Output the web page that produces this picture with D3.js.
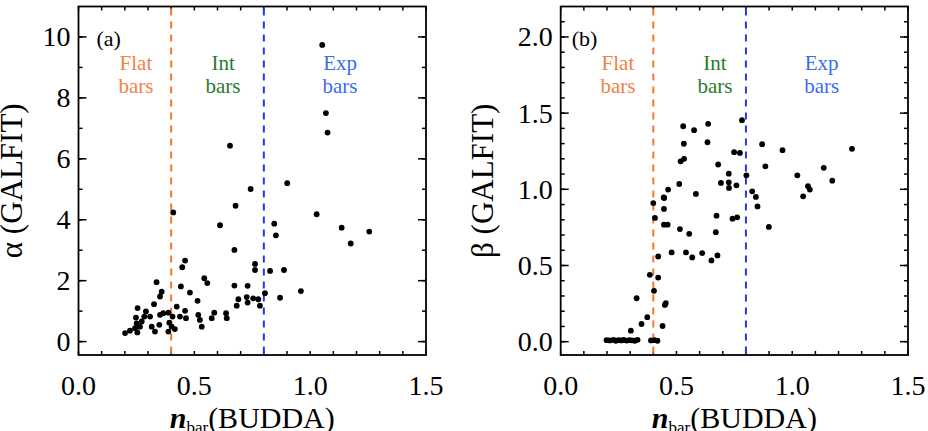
<!DOCTYPE html>
<html>
<head>
<meta charset="utf-8">
<script src="https://cdn.jsdelivr.net/npm/d3@7"></script>
</head>
<body style="margin:0">
<svg id="chart" width="928" height="431"></svg>
<script>

// panel (a): alpha (GALFIT) against n_bar (BUDDA)
var nBarA = [1.052, 1.068, 1.075, 0.654, 0.901, 0.743, 0.678, 0.409, 1.028, 0.845,
  0.611, 1.136, 1.255, 0.852, 1.175, 0.673, 0.460, 0.448, 0.762, 0.762,
  0.827, 0.887, 0.543, 0.556, 0.337, 0.442, 0.481, 0.673, 0.730, 0.805,
  0.960, 0.359, 0.352, 0.514, 0.870, 0.690, 0.726, 0.730, 0.754, 0.776,
  0.783, 0.683, 0.326, 0.424, 0.255,
  0.201, 0.222, 0.244, 0.254, 0.251, 0.248, 0.265, 0.273, 0.284, 0.291,
  0.309, 0.316, 0.330, 0.349, 0.352, 0.366, 0.388, 0.392, 0.402, 0.388,
  0.416, 0.406, 0.460, 0.464, 0.438, 0.517, 0.524, 0.532, 0.575, 0.586,
  0.637, 0.640]
var alphaGalfit = [9.74, 7.50, 6.86, 6.43, 5.20, 5.01, 4.46, 4.24, 4.18, 3.87,
  3.82, 3.74, 3.61, 3.49, 3.22, 3.01, 2.66, 2.44, 2.55, 2.35,
  2.32, 2.35, 2.08, 1.92, 1.95, 1.81, 1.61, 1.84, 1.83, 1.59,
  1.66, 1.64, 1.48, 1.34, 1.44, 1.39, 1.46, 1.28, 1.42, 1.39,
  1.18, 1.18, 1.23, 1.15, 1.10,
  0.28, 0.36, 0.44, 0.30, 0.60, 0.79, 0.49, 0.66, 0.82, 0.99,
  0.82, 0.49, 0.33, 0.55, 0.88, 0.93, 0.95, 0.62, 0.49, 0.33,
  0.41, 0.82, 1.01, 0.77, 0.82, 0.88, 0.71, 0.49, 0.77, 0.95,
  0.93, 0.77]

// panel (b): beta (GALFIT) against n_bar (BUDDA)
var nBarB = [0.783, 0.529, 0.576, 0.637, 0.532, 0.634, 0.870, 0.958, 1.258, 0.749,
  0.774, 0.518, 0.533, 0.680, 0.884, 1.136, 0.726, 0.802, 1.022, 0.512,
  0.692, 0.726, 0.759, 0.727, 1.173, 1.068, 1.076, 1.047, 0.464, 0.584,
  0.445, 0.827, 0.843, 0.850, 0.447, 0.400, 0.446, 0.407, 0.673, 0.742,
  0.762, 0.899, 0.446, 0.462, 0.515, 0.555, 0.670, 0.479, 0.541, 0.568,
  0.611, 0.651, 0.677, 0.421, 0.385, 0.421, 0.403, 0.328, 0.454, 0.450,
  0.374, 0.349, 0.303, 0.440,
  0.198, 0.212, 0.228, 0.238, 0.250, 0.262, 0.272, 0.285, 0.297, 0.308,
  0.320, 0.332, 0.390, 0.405, 0.418]
var betaGalfit = [1.454, 1.414, 1.388, 1.430, 1.299, 1.309, 1.296, 1.257, 1.266, 1.244,
  1.239, 1.184, 1.200, 1.163, 1.151, 1.141, 1.103, 1.092, 1.092, 1.035,
  1.042, 1.046, 1.026, 1.009, 1.057, 1.020, 0.998, 0.954, 0.998, 0.970,
  0.947, 0.987, 0.950, 0.888, 0.943, 0.910, 0.871, 0.812, 0.827, 0.807,
  0.816, 0.753, 0.768, 0.768, 0.739, 0.708, 0.719, 0.586, 0.586, 0.553,
  0.581, 0.533, 0.566, 0.559, 0.439, 0.421, 0.334, 0.285, 0.253, 0.241,
  0.161, 0.116, 0.072, 0.103,
  0.010, 0.008, 0.012, 0.006, 0.010, 0.008, 0.011, 0.007, 0.010, 0.009,
  0.006, 0.012, 0.008, 0.010, 0.006]

var xMajorTicks = [0, 0.5, 1.0, 1.5]
var alphaMajorTicks = [0, 2, 4, 6, 8, 10]
var betaMajorTicks = [0, 0.5, 1.0, 1.5, 2.0]
var barLimits = [0.4, 0.8]
var classNames = ["Flat", "Int", "Exp"]

var svg = d3.select("#chart")

function tickLines(g, vals, f) {
  g.selectAll(null)
    .data(vals)
    .join("line")
    .each(function(d) {
      var c = f(d)
      d3.select(this).attr("x1", c[0]).attr("y1", c[1]).attr("x2", c[2]).attr("y2", c[3])
    })
    .attr("stroke", "#000")
    .attr("stroke-width", 1.5)
}

function drawPanel(p) {
  var g = svg.append("g")

  var x = d3.scaleLinear().domain([0, 1.5]).range([p.left, p.right])
  var y = d3.scaleLinear().domain(p.yDomain).range([p.bottom, p.top])

  // inward ticks on all four sides
  var xMinor = d3.range(0, 16).map(i => i / 10)
  tickLines(g, xMinor, d => [x(d), p.bottom, x(d), p.bottom - 4])
  tickLines(g, xMinor, d => [x(d), p.top, x(d), p.top + 4])
  tickLines(g, p.yMinor, d => [p.left, y(d), p.left + 4, y(d)])
  tickLines(g, p.yMinor, d => [p.right, y(d), p.right - 4, y(d)])
  tickLines(g, p.yMajor, d => [p.left, y(d), p.left + 8, y(d)])
  tickLines(g, p.yMajor, d => [p.right, y(d), p.right - 8, y(d)])

  // tick labels
  g.selectAll(null)
    .data(p.yMajor)
    .join("text")
    .attr("x", p.left - 8)
    .attr("y", d => y(d))
    .attr("dy", "0.34em")
    .attr("text-anchor", "end")
    .style("font-family", "Liberation Serif")
    .style("font-size", "28px")
    .text(p.yFormat)
  g.selectAll(null)
    .data(xMajorTicks)
    .join("text")
    .attr("x", d => x(d))
    .attr("y", p.bottom + 40)
    .attr("text-anchor", "middle")
    .style("font-family", "Liberation Serif")
    .style("font-size", "28px")
    .text(d3.format(".1f"))

  // frame
  g.append("rect")
    .attr("x", p.left)
    .attr("y", p.top)
    .attr("width", p.right - p.left)
    .attr("height", p.bottom - p.top)
    .attr("fill", "none")
    .attr("stroke", "#000")
    .attr("stroke-width", 1.8)

  // dashed class limits
  g.selectAll(null)
    .data(barLimits)
    .join("line")
    .attr("x1", d => x(d)).attr("x2", d => x(d))
    .attr("y1", p.top + 2).attr("y2", p.bottom)
    .attr("stroke", (d, i) => i == 0 ? "#f37a2c" : "#2538e6")
    .attr("stroke-width", 2)
    .attr("stroke-dasharray", "7,6")

  // class labels, two lines each
  var clsColor = ["#f2813f", "#2a7a2e", "#3a6cf0"]
  ;[0, 1].forEach(function(row) {
    g.selectAll(null)
      .data(classNames)
      .join("text")
      .attr("x", (d, i) => x(p.classX[i]))
      .attr("y", 70 + row * 23)
      .attr("text-anchor", "middle")
      .style("font-family", "Liberation Serif")
      .style("font-size", "21px")
      .attr("fill", (d, i) => clsColor[i])
      .text(d => row == 0 ? d : "bars")
  })

  g.append("text")
    .attr("x", p.left + p.tagOffset)
    .attr("y", 46)
    .style("font-family", "Liberation Serif")
    .style("font-size", "22px")
    .text(p.tag)

  // points
  g.selectAll(null)
    .data(p.xs.map((d, i) => [d, p.ys[i]]))
    .join("circle")
    .attr("cx", d => x(d[0]))
    .attr("cy", d => y(d[1]))
    .attr("r", 2.9)
    .attr("fill", "#000")

  // axis titles
  var xt = g.append("text")
    .attr("x", (p.left + p.right) / 2)
    .attr("y", 428)
    .attr("text-anchor", "middle")
    .style("font-family", "Liberation Serif")
    .style("font-size", "30px")
  xt.append("tspan").attr("font-weight", "bold").attr("font-style", "italic").text("n")
  xt.append("tspan").style("font-size", "17px").attr("dy", 5).text("bar")
  xt.append("tspan").attr("dy", -5).text("(BUDDA)")

  g.append("text")
    .attr("transform", `translate(${p.titleX},${(p.top + p.bottom) / 2}) rotate(-90)`)
    .attr("text-anchor", "middle")
    .style("font-family", "Liberation Serif")
    .style("font-size", "31px")
    .text(p.yTitle)
}

drawPanel({
  left: 78.5, right: 426, top: 6.5, bottom: 355,
  yDomain: [-0.44, 11],
  yMinor: d3.range(0, 11),
  yMajor: alphaMajorTicks,
  yFormat: d3.format("d"),
  classX: [0.248, 0.624, 1.129],
  tag: "(a)", tagOffset: 18,
  xs: nBarA, ys: alphaGalfit,
  yTitle: "\u03b1 (GALFIT)", titleX: 22
})

drawPanel({
  left: 560.7, right: 908, top: 6.5, bottom: 355,
  yDomain: [-0.0875, 2.2],
  yMinor: d3.range(0, 22).map(i => i / 10),
  yMajor: betaMajorTicks,
  yFormat: d3.format(".1f"),
  classX: [0.247, 0.666, 1.127],
  tag: "(b)", tagOffset: 11,
  xs: nBarB, ys: betaGalfit,
  yTitle: "\u03b2 (GALFIT)", titleX: 493
})

</script>
</body>
</html>
